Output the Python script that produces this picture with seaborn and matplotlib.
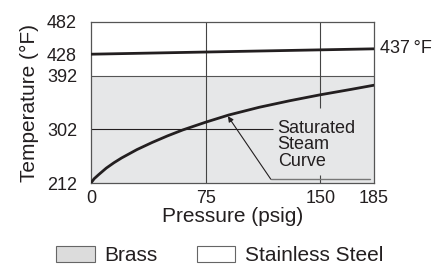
import matplotlib
matplotlib.use("Agg")
import matplotlib.pyplot as plt
import seaborn as sns
import pandas as pd
from matplotlib.patches import Patch

sns.set_theme(style="white")
plt.rcParams['font.family'] = ['Liberation Sans', 'DejaVu Sans']

# Data
steam_pressure = [0, 2, 5, 10, 15, 20, 30, 40, 50, 60, 75, 90, 110, 130, 150, 170, 185]
steam_temp = [212, 219, 226, 237, 246, 254, 268, 280, 291, 301, 314, 326, 339, 350, 360, 369, 376]
ss_pressure = [0, 185]
ss_temp = [428, 437]
brass_limit = 392
x_ticks = [0, 75, 150, 185]
y_ticks = [212, 302, 392, 428, 482]
legend_labels = ["Brass", "Stainless Steel"]
end_label = "437\u2009°F"

ink = "#231f20"
gray_fill = "#e6e7e8"

fig = plt.figure(figsize=(4.35, 2.65), dpi=100)
ax = fig.add_axes([91/435, 1-183/265, (374-91)/435, (183-22)/265])

ax.set_xlim(0, 185)
ax.set_ylim(212, 482)

# brass region
ax.axhspan(212, brass_limit, color=gray_fill, zorder=0, lw=0)
ax.axhline(brass_limit, color="#555555", lw=0.8, zorder=1)

# grid-like guides
ax.axvline(75, color="#444444", lw=0.8, zorder=1)
ax.vlines(150, 338, 482, color="#444444", lw=0.8, zorder=1)
ax.vlines(150, 212, 225, color="#444444", lw=0.8, zorder=1)
ax.hlines(302, 0, 119, color=ink, lw=0.8, zorder=1)

df_steam = pd.DataFrame({"p": steam_pressure, "t": steam_temp})
df_ss = pd.DataFrame({"p": ss_pressure, "t": ss_temp})
sns.lineplot(data=df_steam, x="p", y="t", ax=ax, color=ink, lw=2.0, zorder=3)
sns.lineplot(data=df_ss, x="p", y="t", ax=ax, color=ink, lw=2.0, zorder=3)

# annotation
ax.plot([117.5, 182.5], [218.5, 218.5], color="#777777", lw=1.0, zorder=2)
ax.annotate("", xy=(89.5, 324), xytext=(117.5, 218.5),
            arrowprops=dict(arrowstyle="-|>", color=ink, lw=0.8,
                            mutation_scale=8, shrinkA=0, shrinkB=0), zorder=4)
ax.text(122, 276, "Saturated\nSteam\nCurve", fontsize=13, color=ink,
        va="center", ha="left", linespacing=0.95, zorder=4)

ax.text(189, ss_temp[-1] + 1, end_label, fontsize=13, color=ink,
        va="center", ha="left", clip_on=False)

ax.set_xticks(x_ticks)
ax.set_yticks(y_ticks)
ax.tick_params(axis="both", length=0, labelsize=13, colors=ink)
ax.tick_params(axis="x", pad=5)
ax.tick_params(axis="y", pad=10)
for s in ax.spines.values():
    s.set_color("#555555")
    s.set_linewidth(0.9)

ax.set_xlabel("Pressure (psig)", fontsize=15, color=ink, labelpad=0)
ax.set_ylabel("Temperature (°F)", fontsize=15, color=ink, labelpad=6)

handles = [Patch(facecolor="#dcdcdc", edgecolor="#666666", lw=0.8),
           Patch(facecolor="white", edgecolor="#666666", lw=0.8)]
fig.legend(handles, legend_labels, loc="center", bbox_to_anchor=(0.506, 0.035),
           ncol=2, frameon=False, fontsize=15, handlelength=1.83, handleheight=0.8,
           columnspacing=1.9, handletextpad=0.48, labelcolor=ink)

fig.savefig("out.png", dpi=100)
